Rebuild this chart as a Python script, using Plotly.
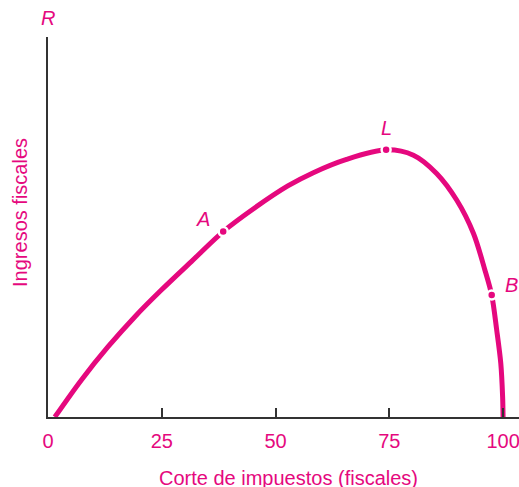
import plotly.graph_objects as go

# Curve data (tax rate %, revenue index)
tax_rate = [1.5, 7.3, 13.2, 19.1, 24.9, 31.5, 38.5, 45.4, 52.7, 58.3, 65.6, 74.3,
            80.3, 85.4, 89.8, 93.5, 96.0, 97.5, 98.6, 99.5, 99.9, 100.0]
revenue = [0.0, 9.7, 18.5, 26.4, 33.4, 40.9, 48.8, 55.0, 60.8, 64.3, 67.8, 70.3,
           68.9, 64.1, 57.1, 48.3, 38.7, 32.1, 22.9, 14.1, 5.3, 0.0]

# Labelled points
point_names = ["A", "L", "B"]
point_x = [38.5, 74.3, 97.5]
point_y = [48.8, 70.3, 32.1]

tick_vals = [0, 25, 50, 75, 100]
tick_text = ["0", "25", "50", "75", "100"]

MAG = "#E5087E"
FONT = "Liberation Sans, Arial, sans-serif"

fig = go.Figure()
fig.add_trace(go.Scatter(x=tax_rate, y=revenue, mode="lines",
                         line=dict(color=MAG, width=5, shape="spline", smoothing=0.9),
                         hoverinfo="skip", showlegend=False, cliponaxis=False))
fig.add_trace(go.Scatter(x=point_x, y=point_y, mode="markers",
                         marker=dict(color=MAG, size=9, line=dict(color="white", width=2.5)),
                         showlegend=False, cliponaxis=False))

shifts = {"A": (-20, 13), "L": (0, 22), "B": (20, 10)}
for n, px, py in zip(point_names, point_x, point_y):
    dx, dy = shifts[n]
    fig.add_annotation(x=px, y=py, xref="x", yref="y", text=f"<i>{n}</i>", showarrow=False,
                       xshift=dx, yshift=dy, xanchor="center", yanchor="middle",
                       font=dict(family=FONT, size=20, color=MAG))

fig.add_annotation(x=0, y=1, xref="x", yref="paper", text="<i>R</i>", showarrow=False,
                   xanchor="center", yanchor="middle", yshift=19,
                   font=dict(family=FONT, size=20, color=MAG))
fig.add_annotation(x=0, y=0.537, xref="paper", yref="paper", text="Ingresos fiscales", showarrow=False,
                   textangle=-90, xanchor="center", yanchor="middle", xshift=-28,
                   font=dict(family=FONT, size=20, color=MAG))
fig.add_annotation(x=0.511, y=0, xref="paper", yref="paper", text="Corte de impuestos (fiscales)",
                   showarrow=False, xanchor="center", yanchor="middle", yshift=-61,
                   font=dict(family=FONT, size=20, color=MAG))

fig.update_layout(
    width=519, height=487, autosize=False,
    margin=dict(l=48, r=0, t=37, b=70),
    plot_bgcolor="white", paper_bgcolor="white",
    font=dict(family=FONT, color=MAG),
    xaxis=dict(range=[0, 103.5], showgrid=False, zeroline=False, showline=True,
               linecolor="#333333", linewidth=1.5, ticks="inside", ticklen=9, tickwidth=1.5,
               tickcolor="#333333", tickvals=tick_vals, ticktext=tick_text,
               tickfont=dict(family=FONT, size=20, color=MAG), ticklabelstandoff=5,
               ticklabeloverflow="allow"),
    yaxis=dict(range=[0, 100], showgrid=False, zeroline=False, showline=True,
               linecolor="#333333", linewidth=1.5, showticklabels=False, ticks=""),
)

fig.write_html("out.html", config={"displayModeBar": False},
               post_script="document.body.style.margin='0';document.body.style.overflow='hidden';")
